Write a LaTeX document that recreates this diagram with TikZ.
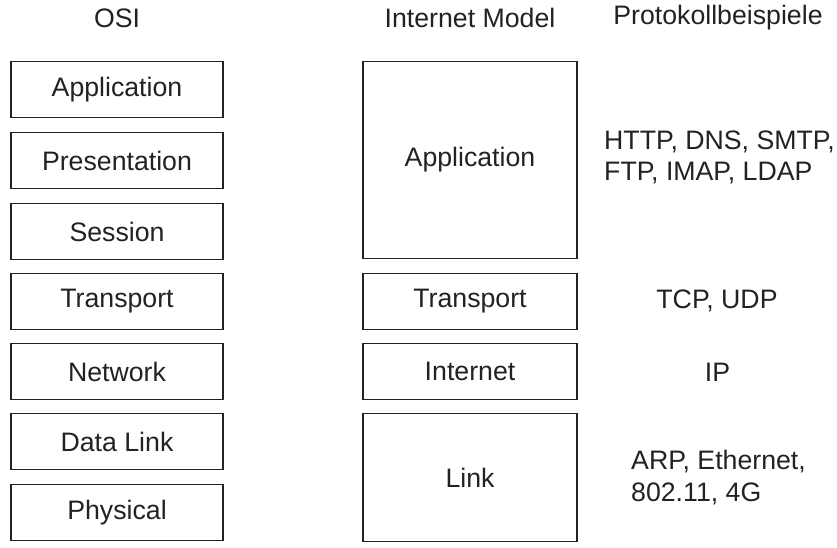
\documentclass[tikz,border=0pt]{standalone}
\usepackage{fontspec}
\setmainfont{Liberation Sans}
\definecolor{ink}{HTML}{222222}
\tikzset{
  layer/.style={draw=ink, line width=1.6pt, text=ink, inner sep=0pt},
  osibox/.style={layer, minimum width=212pt, minimum height=56pt},
  inetbox/.style={layer, minimum width=214pt},
  hdr/.style={text=ink, inner sep=0pt, anchor=base},
  proto/.style={text=ink, inner sep=0pt},
}
\begin{document}
\begin{tikzpicture}[x=1pt,y=-1pt,font=\fontsize{26.7}{30}\selectfont]
\useasboundingbox (0,0) rectangle (837,548);
% headers
\node[hdr] (hosi) at (117,28) {OSI};
\node[hdr] (hinet) at (470,28) {Internet Model};
\node[hdr] (hproto) at (718,25) {Protokollbeispiele};
% OSI stack
\node[osibox] (app)  at (117,89.5)  {Application};
\node[osibox] (pres) at (117,160.5) {Presentation};
\node[osibox] (sess) at (117,231.5) {Session};
\node[osibox] (trans) at (117,301.5) {Transport};
\node[osibox] (net)  at (117,371.5) {Network};
\node[osibox] (dl)   at (117,441.5) {Data Link};
\node[osibox] (phys) at (117,512.5) {Physical};
% Internet model stack
\node[inetbox, minimum height=197pt] (iapp) at (470,160) {Application};
\node[inetbox, minimum height=56pt] (itrans) at (470,301.5) {Transport};
\node[inetbox, minimum height=56pt] (inet) at (470,371.5) {Internet};
\node[inetbox, minimum height=128pt] (ilink) at (470,477.5) {Link};
% protocol examples
\node[proto, anchor=base west, align=left] (papp) at (604,180) {HTTP, DNS, SMTP,\\FTP, IMAP, LDAP};
\node[proto, anchor=base] (ptrans) at (717,308.5) {TCP, UDP};
\node[proto, anchor=base] (pnet) at (717.5,381.7) {IP};
\node[proto, anchor=base west, align=left, font=\fontsize{26.7}{31.5}\selectfont] (plink) at (631,501) {ARP, Ethernet,\\802.11, 4G};
\end{tikzpicture}
\end{document}
